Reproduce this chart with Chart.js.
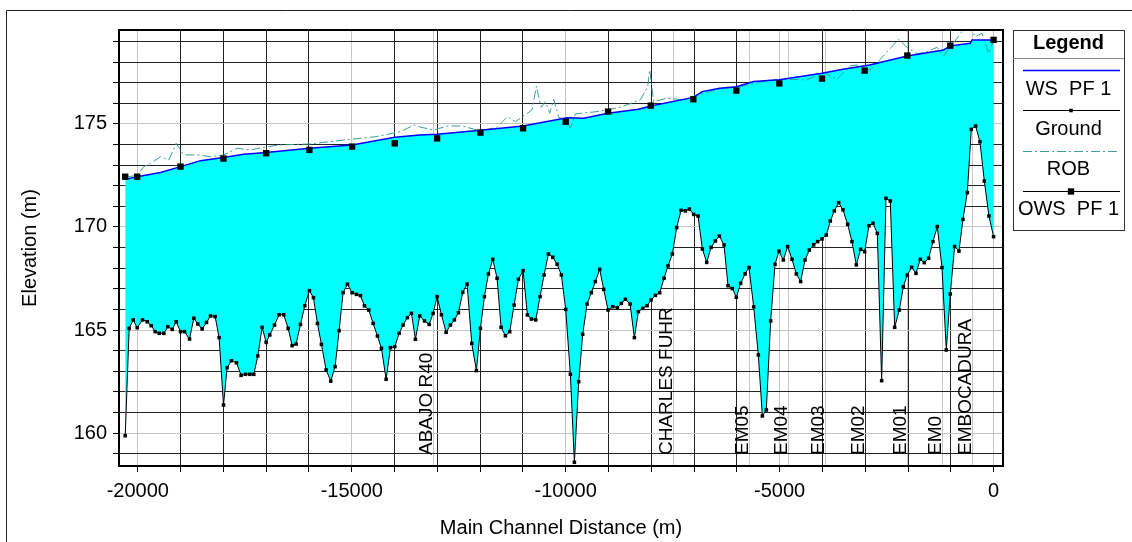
<!DOCTYPE html>
<html>
<head>
<meta charset="utf-8">
<title>Profile</title>
<script src="https://cdn.jsdelivr.net/npm/chart.js@4/dist/chart.umd.min.js"></script>
<style>
  html, body { margin: 0; padding: 0; background: #fff; }
  canvas { display: block; }
</style>
</head>
<body>
<canvas id="profileChart" width="1132" height="542"></canvas>
<script>
// Ground profile (main channel distance, m / elevation, m)
const groundStation = [
  -20295, -20202, -20108, -20015, -19890, -19781, -19688, -19594, -19501, -19392,
  -19299, -19197, -19104, -19002, -18909, -18792, -18691, -18598, -18497, -18395,
  -18302, -18193, -18100, -17998, -17913, -17812, -17695, -17586, -17484, -17383,
  -17290, -17196, -17095, -17001, -16916, -16806, -16698, -16589, -16487, -16394,
  -16301, -16199, -16098, -15989, -15896, -15802, -15709, -15600, -15491, -15390,
  -15296, -15203, -15101, -14992, -14891, -14797, -14704, -14602, -14501, -14400,
  -14306, -14197, -14096, -13995, -13893, -13800, -13699, -13605, -13512, -13411,
  -13301, -13192, -13099, -13006, -12904, -12795, -12694, -12601, -12507, -12406,
  -12305, -12196, -12087, -11993, -11900, -11806, -11705, -11604, -11510, -11409,
  -11308, -11206, -11105, -10996, -10895, -10802, -10700, -10599, -10506, -10404,
  -10303, -10202, -10101, -10000, -9891, -9797, -9696, -9603, -9501, -9400,
  -9307, -9205, -9112, -9010, -8901, -8792, -8699, -8605, -8496, -8395,
  -8302, -8200, -8099, -8005, -7904, -7803, -7702, -7608, -7507, -7406,
  -7304, -7203, -7110, -7009, -6907, -6806, -6705, -6604, -6502, -6409,
  -6300, -6207, -6105, -6012, -5910, -5809, -5716, -5607, -5498, -5404,
  -5311, -5210, -5108, -5015, -4914, -4812, -4711, -4610, -4509, -4407,
  -4306, -4205, -4112, -4010, -3909, -3816, -3722, -3621, -3520, -3411,
  -3310, -3208, -3107, -3014, -2912, -2818, -2717, -2616, -2515, -2414,
  -2312, -2203, -2110, -2016, -1915, -1814, -1713, -1619, -1518, -1417,
  -1315, -1206, -1105, -1012, -911, -809, -716, -614, -521, -420,
  -319, -217, -108, 0
];
const groundElev = [
  159.87, 165.08, 165.49, 165.11, 165.49, 165.40, 165.21, 164.92, 164.84, 164.84,
  165.16, 165.03, 165.40, 164.92, 164.92, 164.56, 165.57, 165.29, 165.05, 165.37,
  165.68, 165.65, 164.63, 161.36, 163.17, 163.51, 163.41, 162.80, 162.85, 162.85,
  162.85, 163.74, 165.13, 164.40, 164.76, 165.24, 165.74, 165.74, 165.08, 164.24,
  164.32, 165.27, 166.18, 166.91, 166.57, 165.32, 164.30, 163.06, 162.52, 163.22,
  164.97, 166.81, 167.22, 166.81, 166.73, 166.67, 166.17, 165.97, 165.32, 164.71,
  164.11, 162.61, 164.14, 164.19, 164.84, 165.24, 165.60, 165.81, 164.55, 165.68,
  165.44, 165.27, 165.81, 166.62, 165.74, 164.89, 165.24, 165.49, 165.84, 166.83,
  167.23, 164.35, 163.03, 165.08, 166.62, 167.72, 168.43, 167.51, 165.13, 164.72,
  164.92, 166.21, 167.46, 167.88, 165.73, 165.53, 165.49, 166.62, 167.67, 168.69,
  168.53, 168.19, 167.67, 166.00, 162.85, 158.58, 162.49, 164.79, 166.26, 166.81,
  167.35, 167.94, 166.97, 165.97, 166.13, 166.08, 166.29, 166.49, 166.26, 164.63,
  165.89, 166.05, 166.18, 166.46, 166.68, 166.81, 167.51, 168.11, 168.69, 169.97,
  170.81, 170.78, 170.87, 170.61, 170.53, 168.93, 168.28, 169.01, 169.32, 169.56,
  169.13, 167.15, 167.01, 166.59, 167.27, 167.72, 168.03, 166.13, 163.79, 160.83,
  161.12, 165.44, 168.19, 168.83, 168.40, 169.05, 168.43, 167.72, 167.35, 168.40,
  168.88, 169.13, 169.29, 169.42, 169.61, 170.29, 170.78, 171.18, 170.83, 170.13,
  169.29, 168.16, 168.92, 168.80, 170.06, 170.18, 169.69, 162.54, 171.39, 171.26,
  165.13, 165.97, 167.10, 167.67, 168.04, 167.75, 168.43, 168.27, 168.48, 169.29,
  170.02, 168.03, 164.03, 166.75, 169.05, 168.83, 170.37, 171.67, 174.74, 174.90,
  174.14, 172.23, 170.53, 169.53
];

// Computed water surface, WS PF 1
const wsStation = [
  -20295, -20015, -19470, -19002, -18533, -17998, -17523, -17001, -15989, -14992,
  -13995, -13411, -13006, -11993, -10996, -9969, -9579, -9010, -8300, -8013,
  -7017, -6813, -6402, -6012, -5607, -5007, -4010, -3520, -2900, -2336,
  -2016, -1168, -1012, -545, -506, 0
];
const wsElev = [
  172.31, 172.44, 172.64, 172.93, 173.22, 173.37, 173.53, 173.61, 173.82, 173.98,
  174.35, 174.47, 174.50, 174.70, 174.90, 175.30, 175.28, 175.52, 175.71, 175.87,
  176.29, 176.57, 176.73, 176.81, 177.06, 177.14, 177.46, 177.65, 177.86, 178.14,
  178.30, 178.59, 178.79, 178.92, 179.08, 179.08
];

// Right overbank
const robStation = [
  -20295, -20015, -19860, -19703, -19470, -19276, -19104, -18925, -18614, -18302,
  -17991, -17679, -17368, -16978, -16667, -15966, -15187, -14408, -13863, -13536,
  -13388, -13078, -12766, -12415, -11993, -11604, -11355, -11176, -10786, -10685,
  -10576, -10474, -10374, -10281, -10164, -9969, -9891, -9774, -9268, -8722,
  -8255, -8084, -8037, -7944, -7632, -7243, -6854, -6402, -5840, -5217,
  -4828, -4361, -3971, -3660, -3348, -3193, -2881, -2647, -2414, -2219,
  -2025, -1791, -1558, -1324, -1168, -973, -740, -545, -428, -272,
  -116, 0
];
const robElev = [
  172.40, 172.52, 172.93, 173.09, 173.41, 173.25, 174.06, 173.50, 173.50, 173.41,
  173.50, 173.82, 173.74, 173.90, 173.98, 174.03, 174.22, 174.39, 174.63, 174.95,
  174.84, 174.71, 174.90, 174.90, 174.66, 174.84, 175.36, 175.11, 175.68, 176.84,
  175.81, 176.08, 175.52, 176.20, 175.32, 175.19, 174.79, 175.49, 175.60, 175.81,
  176.17, 176.81, 177.62, 176.08, 176.25, 176.17, 176.46, 176.68, 176.84, 177.14,
  177.17, 177.14, 177.49, 177.17, 177.82, 177.86, 177.62, 178.14, 178.67, 179.11,
  178.72, 178.40, 178.51, 178.72, 178.30, 178.83, 179.48, 179.64, 179.24, 179.40,
  178.43, 179.05
];

// Observed water surface, OWS PF 1
const owsStation = [
  -20295, -20015, -19002, -17998, -17001, -15989, -14992, -13995, -13006, -11993,
  -10996, -10000, -9010, -8013, -7017, -6012, -5007, -4010, -3014, -2016,
  -1012, 0
];
const owsElev = [
  172.44, 172.44, 172.93, 173.32, 173.58, 173.74, 173.90, 174.06, 174.30, 174.58,
  174.79, 175.11, 175.60, 175.89, 176.20, 176.62, 176.97, 177.20, 177.59, 178.32,
  178.80, 179.08
];

// Axis ticks (every 1000 m, labelled every 5000 m)
const xTickValues = [
  -20000, -19000, -18000, -17000, -16000, -15000, -14000, -13000, -12000, -11000,
  -10000, -9000, -8000, -7000, -6000, -5000, -4000, -3000, -2000, -1000, 0
];

// Labelled cross sections
const sectionNames = ['ABAJO R40', 'CHARLES FUHR', 'EM05', 'EM04', 'EM03', 'EM02', 'EM01', 'EM0', 'EMBOCADURA'];
const sectionStation = [-13099, -7500, -5724, -4812, -3932, -3014, -2016, -1206, -506];

const legendNames = ['WS  PF 1', 'Ground', 'ROB', 'OWS  PF 1'];

const toPoints = (xs, ys) => xs.map((v, i) => ({x: v, y: ys[i]}));

const FONT = 'Arial, "Liberation Sans", sans-serif';
Chart.defaults.font.family = FONT;
Chart.defaults.font.size = 20;
Chart.defaults.color = '#000';

const sectionMarks = {
  id: 'sectionMarks',
  beforeDraw(chart) {
    const {ctx, chartArea, scales: {x}} = chart;
    ctx.save();
    ctx.strokeStyle = '#c8c8c8';
    ctx.lineWidth = 1;
    sectionStation.forEach(st => {
      const px = Math.round(x.getPixelForValue(st)) + 0.5;
      ctx.beginPath();
      ctx.moveTo(px, chartArea.top);
      ctx.lineTo(px, chartArea.bottom);
      ctx.stroke();
    });
    ctx.restore();
  },
  beforeDatasetsDraw(chart) {
    const {ctx, scales: {x}} = chart;
    ctx.save();
    ctx.fillStyle = '#000';
    ctx.font = '19px ' + FONT;
    ctx.textAlign = 'left';
    ctx.textBaseline = 'alphabetic';
    sectionStation.forEach((st, i) => {
      const px = x.getPixelForValue(st);
      ctx.save();
      ctx.translate(px - 1, 455);
      ctx.rotate(-Math.PI / 2);
      ctx.fillText(sectionNames[i], 0, 0);
      ctx.restore();
    });
    ctx.restore();
  },
  afterDraw(chart) {
    const {ctx, chartArea: a} = chart;
    ctx.save();
    // outer frame
    ctx.strokeStyle = '#222';
    ctx.lineWidth = 1;
    ctx.beginPath();
    ctx.moveTo(6.5, 542);
    ctx.lineTo(6.5, 10.5);
    ctx.lineTo(1132, 10.5);
    ctx.stroke();
    // plot frame
    ctx.strokeStyle = '#000';
    ctx.lineWidth = 2;
    ctx.strokeRect(a.left, a.top, a.right - a.left, a.bottom - a.top);

    // legend box
    const bx = 1013, by = 30, bw = 111, bh = 200;
    ctx.lineWidth = 1;
    ctx.strokeStyle = '#333';
    ctx.strokeRect(bx + 0.5, by + 0.5, bw, bh);
    ctx.strokeStyle = '#888';
    ctx.beginPath();
    ctx.moveTo(bx, 58.5);
    ctx.lineTo(bx + bw, 58.5);
    ctx.stroke();
    ctx.fillStyle = '#000';
    ctx.textAlign = 'center';
    ctx.textBaseline = 'middle';
    ctx.font = 'bold 20px ' + FONT;
    ctx.fillText('Legend', bx + bw / 2, 43);

    ctx.font = '20px ' + FONT;
    chart.data.datasets.forEach((ds, i) => {
      const ly = Math.round(70 + i * 40.3) + 0.5;
      ctx.save();
      ctx.strokeStyle = ds.legendLine || ds.borderColor;
      ctx.lineWidth = ds.borderWidth || 1;
      ctx.setLineDash(ds.borderDash || []);
      ctx.beginPath();
      ctx.moveTo(1023, ly);
      ctx.lineTo(1120, ly);
      ctx.stroke();
      ctx.restore();
      if (ds.pointRadius > 0) {
        const s = ds.pointRadius * Math.SQRT1_2;
        ctx.fillStyle = '#000';
        ctx.fillRect(1071 - s, ly - s, 2 * s, 2 * s);
      }
      ctx.fillStyle = '#000';
      ctx.fillText(legendNames[i], bx + bw / 2, 89 + i * 40);
    });
    ctx.restore();
  }
};

new Chart(document.getElementById('profileChart'), {
  type: 'line',
  data: {
    datasets: [
      {
        label: legendNames[0],
        data: toPoints(wsStation, wsElev),
        borderColor: '#0000ff',
        borderWidth: 1.5,
        backgroundColor: '#00ffff',
        fill: {target: 1},
        pointRadius: 0,
        order: 1
      },
      {
        label: legendNames[1],
        data: toPoints(groundStation, groundElev),
        borderColor: '#000',
        borderWidth: 1,
        pointStyle: 'rect',
        pointRadius: 2.5,
        pointBackgroundColor: '#000',
        pointBorderWidth: 0,
        fill: false,
        order: 2
      },
      {
        label: legendNames[2],
        data: toPoints(robStation, robElev),
        borderColor: '#3a9f98',
        borderWidth: 1,
        borderDash: [9, 3, 2, 3],
        pointRadius: 0,
        fill: false,
        order: 3
      },
      {
        label: legendNames[3],
        data: toPoints(owsStation, owsElev),
        borderColor: '#000',
        legendLine: '#000',
        borderWidth: 1,
        showLine: false,
        pointStyle: 'rect',
        pointRadius: 4.5,
        pointBackgroundColor: '#000',
        pointBorderWidth: 0,
        order: 0
      }
    ]
  },
  options: {
    responsive: false,
    animation: false,
    devicePixelRatio: 1,
    layout: {padding: {left: 0, top: 30, right: 129, bottom: 0}},
    plugins: {
      legend: {display: false},
      tooltip: {enabled: false},
      filler: {drawTime: 'beforeDatasetsDraw'}
    },
    scales: {
      x: {
        type: 'linear',
        min: -20440,
        max: 220,
        afterBuildTicks(scale) {
          scale.ticks = xTickValues.map(v => ({value: v}));
        },
        afterFit(scale) { scale.height = 76; },
        border: {display: true, color: '#000', width: 2},
        grid: {
          color: ctx => (ctx.tick && ctx.tick.value % 5000 === 0) ? '#c4c4c4' : '#222',
          tickColor: '#000',
          tickLength: 6,
          lineWidth: 1
        },
        ticks: {
          autoSkip: false,
          maxRotation: 0,
          minRotation: 0,
          padding: 7,
          callback: v => (v % 5000 === 0 ? String(v) : '')
        },
        title: {
          display: true,
          text: 'Main Channel Distance (m)',
          padding: {top: 0, bottom: 2}
        }
      },
      y: {
        type: 'linear',
        min: 158.4,
        max: 179.56,
        afterFit(scale) { scale.width = 119; },
        border: {display: true, color: '#000', width: 2},
        grid: {
          color: ctx => (ctx.tick && ctx.tick.value % 5 === 0) ? '#c4c4c4' : '#222',
          tickColor: '#000',
          tickLength: 6,
          lineWidth: 1
        },
        ticks: {
          stepSize: 1,
          includeBounds: false,
          autoSkip: false,
          padding: 6,
          callback: v => (v % 5 === 0 ? String(v) : '')
        },
        title: {
          display: true,
          text: 'Elevation (m)',
          padding: {top: 18, bottom: 0}
        }
      }
    }
  },
  plugins: [sectionMarks]
});
</script>
</body>
</html>
